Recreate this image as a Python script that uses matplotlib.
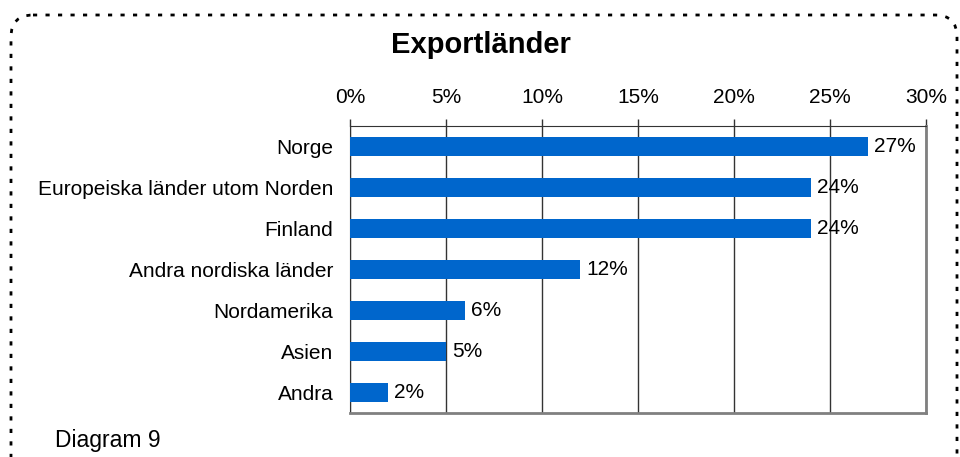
import matplotlib
matplotlib.use("Agg")
import matplotlib.pyplot as plt
from matplotlib.patches import FancyBboxPatch
from matplotlib.ticker import FuncFormatter, MultipleLocator

# -------------------------------------------------------------------------
# DATA
# -------------------------------------------------------------------------
CATEGORIES = [
    "Norge",
    "Europeiska länder utom Norden",
    "Finland",
    "Andra nordiska länder",
    "Nordamerika",
    "Asien",
    "Andra",
]
SHARES = [27, 24, 24, 12, 6, 5, 2]
TITLE = "Exportländer"
CAPTION = "Diagram 9"

BAR_COLOR = "#0066CC"
FONT = ["Liberation Sans", "DejaVu Sans"]

plt.rcParams["font.family"] = FONT

fig = plt.figure(figsize=(9.6, 4.57), dpi=100)

# background layer in pixel units for the dotted frame
bg = fig.add_axes([0, 0, 1, 1])
bg.set_xlim(0, 960)
bg.set_ylim(457, 0)
bg.axis("off")
frame = FancyBboxPatch(
    (11, 15), 946, 470,
    boxstyle="round,pad=0,rounding_size=22",
    fill=False, edgecolor="black", linewidth=2.0,
    linestyle=(0, (1.5, 3.0)), clip_on=False,
)
bg.add_patch(frame)

ax = fig.add_axes([350 / 960, 1 - 413 / 457, 576 / 960, 287 / 457])
pos = list(range(len(CATEGORIES)))
bars = ax.barh(pos, SHARES, height=0.44, color=BAR_COLOR, zorder=3)

ax.set_xlim(0, 30)
ax.set_ylim(len(CATEGORIES) - 0.5, -0.5)
ax.set_yticks(pos)
ax.set_yticklabels(CATEGORIES)
ax.xaxis.set_major_locator(MultipleLocator(5))
ax.xaxis.set_major_formatter(FuncFormatter(lambda v, p: f"{v:.0f}%"))
ax.xaxis.tick_top()
ax.tick_params(axis="x", direction="out", length=5, width=1, color="#333333",
               labelsize=15, pad=9)
ax.tick_params(axis="y", length=0, labelsize=15, pad=12)
ax.grid(axis="x", color="#333333", linewidth=1, zorder=1)

ax.spines["top"].set_color("#333333")
ax.spines["left"].set_color("#333333")
ax.spines["right"].set_color("#808080")
ax.spines["bottom"].set_color("#808080")
ax.spines["right"].set_linewidth(2)
ax.spines["bottom"].set_linewidth(2)

for b, v in zip(bars, SHARES):
    ax.text(v + 0.3, b.get_y() + b.get_height() / 2, f"{v}%",
            va="center", ha="left", fontsize=15, zorder=4)

fig.text(481 / 960, 1 - 45 / 457, TITLE, ha="center", va="center",
         fontsize=21, fontweight="bold")
fig.text(55 / 960, 1 - 441 / 457, CAPTION, ha="left", va="center", fontsize=16.5)

fig.savefig("out.png", dpi=100)
